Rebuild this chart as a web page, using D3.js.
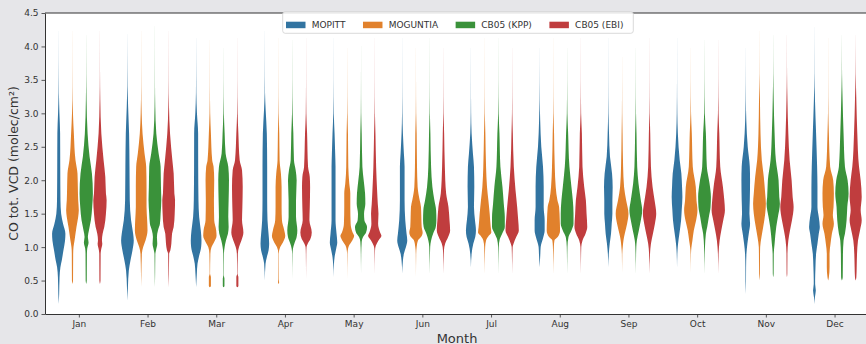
<!DOCTYPE html>
<html>
<head>
<meta charset="utf-8">
<script src="https://cdn.jsdelivr.net/npm/d3@7"></script>
<style>
  body { margin: 0; background: #e6e6e9; }
  svg { display: block; }
  text { font-family: "DejaVu Sans", sans-serif; }
</style>
</head>
<body>
<svg id="chart" width="866" height="344"></svg>
<script>
// Monthly distributions of CO total vertical column density (1e18 molec/cm²)
const months = ["Jan", "Feb", "Mar", "Apr", "May", "Jun", "Jul", "Aug", "Sep", "Oct", "Nov", "Dec"];
const seriesNames = ["MOPITT", "MOGUNTIA", "CB05 (KPP)", "CB05 (EBI)"];
const seriesColors = ["#3274a1", "#e1812c", "#3a923a", "#c03d3e"];
const yTicks = [0, 0.5, 1, 1.5, 2, 2.5, 3, 3.5, 4, 4.5];

// Each violin: [value, relative density width] pairs (1 = full dodge slot)
const mopitt = [
  [[0.15,0],[0.3,0.06],[0.55,0.12],[0.7,0.24],[0.8,0.44],[0.95,0.68],[1.1,0.92],[1.2,0.97],[1.35,0.63],[1.5,0.35],[1.7,0.25],[2.2,0.22],[2.7,0.2],[3.0,0.1],[3.3,0.03],[3.8,0.008],[4.5,0]],
  [[0.2,0],[0.4,0.07],[0.65,0.2],[0.8,0.44],[0.95,0.73],[1.1,0.92],[1.2,0.83],[1.4,0.53],[1.7,0.34],[2.2,0.3],[2.7,0.24],[3.1,0.1],[3.4,0.03],[3.9,0.008],[4.5,0]],
  [[0.4,0],[0.6,0.1],[0.75,0.2],[0.85,0.39],[1.0,0.73],[1.1,0.78],[1.25,0.68],[1.45,0.44],[1.7,0.34],[2.2,0.3],[2.7,0.29],[3.0,0.12],[3.3,0.03],[3.8,0.008],[4.5,0]],
  [[0.5,0],[0.75,0.1],[0.85,0.29],[0.95,0.54],[1.05,0.63],[1.2,0.54],[1.4,0.39],[1.7,0.34],[2.2,0.34],[2.7,0.29],[3.05,0.12],[3.3,0.03],[3.8,0.008],[4.5,0]],
  [[0.55,0],[0.75,0.06],[0.85,0.15],[0.98,0.39],[1.07,0.54],[1.2,0.44],[1.4,0.29],[1.7,0.29],[2.2,0.29],[2.4,0.24],[2.7,0.15],[3.0,0.04],[3.5,0.008],[4.5,0]],
  [[0.6,0],[0.8,0.1],[0.9,0.24],[1.0,0.54],[1.1,0.73],[1.2,0.63],[1.4,0.44],[1.7,0.34],[2.2,0.34],[2.4,0.24],[2.7,0.1],[3.0,0.03],[3.5,0.008],[4.5,0]],
  [[0.7,0],[0.9,0.1],[1.05,0.34],[1.15,0.63],[1.25,0.73],[1.4,0.59],[1.6,0.44],[1.9,0.49],[2.2,0.44],[2.4,0.29],[2.7,0.1],[3.0,0.03],[3.5,0.008],[4.5,0]],
  [[0.7,0],[0.9,0.1],[1.0,0.15],[1.15,0.54],[1.25,0.73],[1.4,0.73],[1.6,0.59],[1.9,0.59],[2.2,0.49],[2.5,0.24],[2.9,0.08],[3.2,0.025],[3.7,0.006],[4.5,0]],
  [[0.7,0],[0.9,0.07],[1.05,0.2],[1.2,0.39],[1.35,0.49],[1.5,0.59],[1.7,0.59],[1.9,0.63],[2.1,0.54],[2.35,0.24],[2.7,0.1],[3.0,0.03],[3.5,0.008],[4.5,0]],
  [[0.7,0],[0.95,0.07],[1.05,0.15],[1.2,0.34],[1.4,0.59],[1.55,0.68],[1.75,0.78],[1.9,0.73],[2.1,0.63],[2.3,0.39],[2.7,0.12],[3.0,0.04],[3.5,0.008],[4.5,0]],
  [[0.3,0],[0.5,0.04],[0.7,0.05],[0.9,0.1],[1.05,0.24],[1.2,0.44],[1.35,0.63],[1.5,0.54],[1.7,0.59],[2.0,0.63],[2.2,0.59],[2.5,0.29],[2.9,0.08],[3.2,0.025],[3.7,0.006],[4.5,0]],
  [[0.15,0],[0.25,0.07],[0.35,0.2],[0.45,0.1],[0.5,0.1],[0.7,0.15],[0.9,0.24],[1.05,0.44],[1.2,0.63],[1.3,0.78],[1.45,0.63],[1.6,0.44],[1.9,0.44],[2.2,0.39],[2.7,0.24],[3.2,0.08],[3.6,0.015],[4.5,0]]
];
const moguntia = [
  [[0.45,0],[0.5,0.08],[0.9,0.1],[1.0,0.15],[1.1,0.3],[1.3,0.58],[1.45,0.83],[1.55,0.92],[1.7,0.83],[1.9,0.78],[2.1,0.73],[2.3,0.44],[2.7,0.2],[3.0,0.07],[3.4,0.015],[4.0,0.005],[4.5,0]],
  [[0.4,0],[0.6,0.03],[0.9,0.1],[1.0,0.29],[1.1,0.63],[1.25,0.92],[1.4,0.87],[1.6,0.78],[1.9,0.78],[2.2,0.73],[2.4,0.49],[2.7,0.2],[3.0,0.07],[3.4,0.015],[4.0,0.005],[4.5,0]],
  [[0.4,0],[0.42,0.15],[0.55,0.15],[0.6,0.03],[0.9,0.07],[1.0,0.24],[1.07,0.59],[1.17,0.97],[1.25,0.92],[1.4,0.63],[1.7,0.59],[2.0,0.63],[2.2,0.54],[2.3,0.34],[2.7,0.15],[3.0,0.045],[3.4,0.012],[4.0,0.004],[4.5,0]],
  [[0.45,0],[0.47,0.08],[0.52,0.04],[0.9,0.03],[1.0,0.24],[1.07,0.63],[1.17,0.97],[1.25,0.83],[1.4,0.49],[1.6,0.44],[1.9,0.44],[2.1,0.34],[2.3,0.15],[2.7,0.1],[3.0,0.03],[3.5,0.008],[4.5,0]],
  [[0.5,0],[0.9,0.03],[0.95,0.07],[1.02,0.24],[1.1,0.73],[1.17,1.0],[1.22,0.78],[1.35,0.49],[1.6,0.44],[1.8,0.44],[1.95,0.29],[2.2,0.15],[2.7,0.1],[3.0,0.03],[3.5,0.008],[4.5,0]],
  [[0.55,0],[0.9,0.03],[1.0,0.1],[1.1,0.29],[1.15,0.73],[1.22,0.97],[1.3,0.83],[1.45,0.78],[1.6,0.73],[1.7,0.54],[1.9,0.24],[2.2,0.15],[2.7,0.1],[3.0,0.03],[3.5,0.008],[4.5,0]],
  [[0.6,0],[1.0,0.07],[1.1,0.2],[1.17,0.59],[1.22,0.97],[1.3,0.88],[1.5,0.73],[1.7,0.54],[1.9,0.34],[2.2,0.2],[2.7,0.1],[3.0,0.03],[3.5,0.008],[4.5,0]],
  [[0.6,0],[1.0,0.07],[1.1,0.15],[1.15,0.63],[1.25,0.97],[1.4,0.93],[1.6,0.83],[1.7,0.59],[1.9,0.34],[2.2,0.2],[2.7,0.1],[3.0,0.03],[3.5,0.008],[4.5,0]],
  [[0.6,0],[0.9,0.03],[1.0,0.1],[1.1,0.2],[1.2,0.39],[1.35,0.73],[1.5,0.93],[1.7,0.59],[1.9,0.29],[2.2,0.15],[2.7,0.07],[3.0,0.025],[3.5,0.006],[4.5,0]],
  [[0.6,0],[0.9,0.03],[1.0,0.1],[1.1,0.24],[1.25,0.44],[1.4,0.78],[1.55,0.97],[1.7,0.83],[1.9,0.73],[2.2,0.29],[2.7,0.15],[3.0,0.04],[3.5,0.008],[4.5,0]],
  [[0.5,0],[0.6,0.06],[0.9,0.08],[1.0,0.1],[1.15,0.29],[1.3,0.54],[1.5,0.83],[1.65,0.93],[1.8,0.83],[2.05,0.63],[2.3,0.34],[2.7,0.15],[3.2,0.07],[3.6,0.012],[4.0,0.005],[4.5,0]],
  [[0.5,0],[0.55,0.1],[0.7,0.2],[0.9,0.2],[1.05,0.34],[1.2,0.54],[1.35,0.83],[1.48,0.68],[1.6,0.78],[1.8,0.83],[2.0,0.73],[2.2,0.29],[2.7,0.1],[3.0,0.03],[3.5,0.008],[4.5,0]]
];
const cb05Kpp = [
  [[0.45,0],[0.5,0.08],[0.9,0.1],[0.98,0.15],[1.07,0.34],[1.15,0.24],[1.25,0.39],[1.4,0.68],[1.6,0.87],[1.8,0.97],[2.1,0.83],[2.35,0.49],[2.7,0.2],[3.2,0.05],[3.6,0.012],[4.0,0.005],[4.5,0]],
  [[0.4,0],[0.6,0.03],[0.9,0.06],[0.95,0.15],[1.05,0.34],[1.15,0.29],[1.25,0.44],[1.35,0.73],[1.5,0.83],[1.7,0.93],[1.9,0.88],[2.2,0.83],[2.4,0.54],[2.7,0.2],[3.1,0.05],[3.5,0.012],[4.0,0.005],[4.5,0]],
  [[0.4,0],[0.42,0.12],[0.53,0.12],[0.58,0.03],[0.9,0.05],[1.0,0.15],[1.1,0.34],[1.2,0.63],[1.3,0.73],[1.45,0.68],[1.7,0.73],[2.0,0.78],[2.2,0.68],[2.4,0.29],[2.7,0.15],[3.0,0.04],[3.5,0.008],[4.5,0]],
  [[0.5,0],[0.9,0.03],[0.98,0.1],[1.05,0.29],[1.15,0.63],[1.25,0.73],[1.45,0.54],[1.7,0.54],[2.0,0.63],[2.15,0.49],[2.3,0.24],[2.7,0.15],[3.0,0.045],[3.5,0.01],[4.0,0.004],[4.5,0]],
  [[0.6,0],[0.9,0.03],[1.08,0.1],[1.15,0.29],[1.22,0.73],[1.3,0.88],[1.4,0.49],[1.5,0.44],[1.65,0.63],[1.8,0.59],[2.0,0.39],[2.2,0.2],[2.7,0.1],[3.0,0.03],[3.5,0.008],[4.5,0]],
  [[0.6,0],[1.0,0.07],[1.1,0.2],[1.2,0.49],[1.3,0.88],[1.4,0.97],[1.55,0.93],[1.7,0.68],[1.9,0.39],[2.2,0.2],[2.7,0.1],[3.0,0.03],[3.5,0.008],[4.5,0]],
  [[0.6,0],[1.0,0.05],[1.12,0.2],[1.2,0.54],[1.3,0.93],[1.45,0.93],[1.65,0.78],[1.9,0.59],[2.2,0.29],[2.7,0.15],[3.0,0.04],[3.5,0.008],[4.5,0]],
  [[0.6,0],[1.0,0.05],[1.15,0.2],[1.25,0.63],[1.35,0.93],[1.5,0.93],[1.7,0.83],[1.9,0.63],[2.2,0.34],[2.7,0.15],[3.0,0.04],[3.5,0.008],[4.5,0]],
  [[0.6,0],[1.0,0.07],[1.1,0.15],[1.25,0.44],[1.4,0.73],[1.55,0.93],[1.7,0.73],[1.95,0.39],[2.2,0.2],[2.7,0.1],[3.0,0.03],[3.5,0.008],[4.5,0]],
  [[0.6,0],[1.0,0.07],[1.2,0.2],[1.3,0.39],[1.45,0.63],[1.6,0.88],[1.75,0.93],[1.95,0.73],[2.2,0.34],[2.7,0.2],[3.0,0.05],[3.5,0.012],[4.0,0.004],[4.5,0]],
  [[0.55,0],[0.6,0.06],[0.9,0.08],[1.05,0.2],[1.3,0.44],[1.45,0.68],[1.65,0.97],[1.75,0.88],[2.0,0.78],[2.3,0.39],[2.7,0.2],[3.2,0.07],[3.6,0.015],[4.0,0.005],[4.5,0]],
  [[0.5,0],[0.55,0.12],[0.9,0.15],[1.1,0.24],[1.2,0.44],[1.4,0.68],[1.6,0.78],[1.8,0.97],[2.0,0.83],[2.2,0.44],[2.7,0.24],[3.2,0.1],[3.6,0.02],[4.0,0.006],[4.5,0]]
];
const cb05Ebi = [
  [[0.45,0],[0.5,0.08],[0.9,0.1],[0.95,0.15],[1.05,0.34],[1.1,0.29],[1.2,0.39],[1.3,0.63],[1.5,0.87],[1.7,0.97],[1.8,0.87],[2.05,0.78],[2.3,0.53],[2.7,0.2],[3.2,0.05],[3.6,0.012],[4.0,0.005],[4.5,0]],
  [[0.4,0],[0.6,0.04],[0.9,0.07],[0.95,0.24],[1.05,0.39],[1.2,0.49],[1.3,0.73],[1.5,0.88],[1.7,0.93],[1.8,0.83],[2.1,0.73],[2.3,0.54],[2.7,0.2],[3.1,0.05],[3.5,0.012],[4.0,0.005],[4.5,0]],
  [[0.4,0],[0.42,0.15],[0.55,0.15],[0.6,0.03],[0.9,0.07],[1.0,0.24],[1.1,0.59],[1.22,0.88],[1.4,0.68],[1.6,0.73],[1.9,0.78],[2.15,0.68],[2.3,0.34],[2.7,0.15],[3.0,0.04],[3.5,0.008],[4.5,0]],
  [[0.5,0],[0.9,0.03],[1.0,0.07],[1.05,0.24],[1.12,0.63],[1.22,0.83],[1.4,0.49],[1.6,0.54],[1.9,0.59],[2.05,0.54],[2.2,0.29],[2.7,0.15],[3.0,0.04],[3.5,0.008],[4.5,0]],
  [[0.6,0],[0.95,0.04],[1.02,0.15],[1.1,0.54],[1.17,0.97],[1.22,0.78],[1.35,0.49],[1.5,0.54],[1.65,0.44],[1.85,0.34],[2.2,0.2],[2.7,0.1],[3.0,0.03],[3.5,0.008],[4.5,0]],
  [[0.6,0],[0.95,0.07],[1.05,0.24],[1.15,0.68],[1.25,0.97],[1.4,0.88],[1.6,0.73],[1.8,0.39],[2.2,0.2],[2.7,0.1],[3.0,0.03],[3.5,0.008],[4.5,0]],
  [[0.6,0],[1.0,0.07],[1.05,0.2],[1.15,0.59],[1.25,0.97],[1.4,0.88],[1.6,0.73],[1.85,0.49],[2.2,0.24],[2.7,0.1],[3.0,0.03],[3.5,0.008],[4.5,0]],
  [[0.6,0],[1.0,0.06],[1.1,0.24],[1.2,0.68],[1.3,0.93],[1.5,0.83],[1.7,0.73],[1.9,0.49],[2.2,0.24],[2.7,0.15],[3.0,0.04],[3.5,0.008],[4.5,0]],
  [[0.6,0],[0.9,0.07],[1.05,0.2],[1.2,0.49],[1.35,0.78],[1.5,0.97],[1.7,0.73],[1.9,0.44],[2.2,0.2],[2.7,0.1],[3.0,0.03],[3.5,0.008],[4.5,0]],
  [[0.6,0],[0.9,0.05],[1.1,0.2],[1.25,0.44],[1.4,0.73],[1.55,0.97],[1.7,0.88],[1.9,0.68],[2.2,0.29],[2.7,0.15],[3.0,0.045],[3.5,0.01],[4.0,0.004],[4.5,0]],
  [[0.55,0],[0.6,0.05],[0.9,0.07],[1.1,0.2],[1.25,0.44],[1.4,0.73],[1.6,0.97],[1.75,0.83],[2.0,0.68],[2.3,0.39],[2.7,0.2],[3.2,0.07],[3.6,0.015],[4.0,0.005],[4.5,0]],
  [[0.5,0],[0.55,0.1],[0.7,0.15],[0.9,0.2],[1.1,0.34],[1.25,0.63],[1.4,0.88],[1.55,0.73],[1.75,0.88],[2.0,0.73],[2.2,0.49],[2.7,0.24],[3.2,0.1],[3.6,0.02],[4.0,0.006],[4.5,0]]
];
const seriesData = [mopitt, moguntia, cb05Kpp, cb05Ebi];

// Layout
const plot = { left: 45, right: 869.4, top: 13, bottom: 314 };
const ink = "#333333";
const svg = d3.select("#chart");

svg.append("rect").attr("width", 866).attr("height", 344).attr("fill", "#e6e6e9");
svg.append("rect")
  .attr("x", plot.left).attr("y", plot.top)
  .attr("width", plot.right - plot.left).attr("height", plot.bottom - plot.top)
  .attr("fill", "#ffffff");

const x = d3.scaleBand().domain(months).range([plot.left, plot.right]).padding(0);
const dodge = d3.scaleBand().domain(seriesNames)
  .range([-0.4 * x.bandwidth(), 0.4 * x.bandwidth()]);
const y = d3.scaleLinear().domain([0, 4.5]).range([plot.bottom, plot.top]);
const halfWidth = d3.scaleLinear().domain([0, 1]).range([0, dodge.bandwidth() / 2]);

svg.append("clipPath").attr("id", "plot-clip")
  .append("rect")
  .attr("x", plot.left).attr("y", plot.top)
  .attr("width", plot.right - plot.left).attr("height", plot.bottom - plot.top);

// Violins
const violinLayer = svg.append("g").attr("clip-path", "url(#plot-clip)");
seriesNames.forEach((name, si) => {
  const g = violinLayer.append("g").attr("fill", seriesColors[si]);
  months.forEach((m, mi) => {
    const cx = x(m) + x.bandwidth() / 2 + dodge(name) + dodge.bandwidth() / 2;
    const pts = seriesData[si][mi].slice().sort((a, b) => a[0] - b[0]);
    const area = d3.area()
      .curve(d3.curveMonotoneY)
      .y(d => y(d[0]))
      .x0(d => cx - halfWidth(d[1]))
      .x1(d => cx + halfWidth(d[1]));
    g.append("path").attr("d", area(pts));
  });
});

// Axes
const yAxis = d3.axisLeft(y).tickValues(yTicks).tickFormat(d3.format(".1f"))
  .tickSize(3.5).tickPadding(3).tickSizeOuter(0);
const xAxis = d3.axisBottom(x).tickSize(3.5).tickPadding(3.5).tickSizeOuter(0);

const gy = svg.append("g").attr("transform", `translate(${plot.left},0)`).call(yAxis);
const gx = svg.append("g").attr("transform", `translate(0,${plot.bottom})`).call(xAxis);
[gx, gy].forEach(g => {
  g.select(".domain").attr("stroke", ink).attr("stroke-width", 1);
  g.selectAll(".tick line").attr("stroke", ink).attr("stroke-width", 0.8);
  g.selectAll(".tick text").attr("fill", ink).attr("font-size", 9)
    .attr("font-family", "'DejaVu Sans', sans-serif");
});

// Top spine
svg.append("line")
  .attr("x1", plot.left).attr("x2", plot.right)
  .attr("y1", plot.top).attr("y2", plot.top)
  .attr("stroke", ink).attr("stroke-width", 1);

// Axis titles
svg.append("text")
  .attr("transform", `translate(18,${(plot.top + plot.bottom) / 2}) rotate(-90)`)
  .attr("text-anchor", "middle")
  .attr("font-size", 12.5).attr("fill", ink)
  .text("CO tot. VCD (molec/cm²)");
svg.append("text")
  .attr("x", 457).attr("y", 342.5)
  .attr("text-anchor", "middle")
  .attr("font-size", 13).attr("fill", ink)
  .text("Month");

// Legend
const legend = svg.append("g");
legend.append("rect")
  .attr("x", 282.7).attr("y", 11.7).attr("width", 350.6).attr("height", 21.6)
  .attr("rx", 2.5)
  .attr("fill", "#ffffff").attr("fill-opacity", 0.85)
  .attr("stroke", "#d0d0d0").attr("stroke-width", 0.8);
let lx = 286;
seriesNames.forEach((name, i) => {
  legend.append("rect")
    .attr("x", lx).attr("y", 21.7).attr("width", 19.5).attr("height", 6.5)
    .attr("fill", seriesColors[i]);
  const t = legend.append("text")
    .attr("x", lx + 25.7).attr("y", 25)
    .attr("dominant-baseline", "central")
    .attr("font-size", 9).attr("fill", ink)
    .text(name);
  lx = lx + 25.7 + t.node().getComputedTextLength() + 17.5;
});
</script>
</body>
</html>
